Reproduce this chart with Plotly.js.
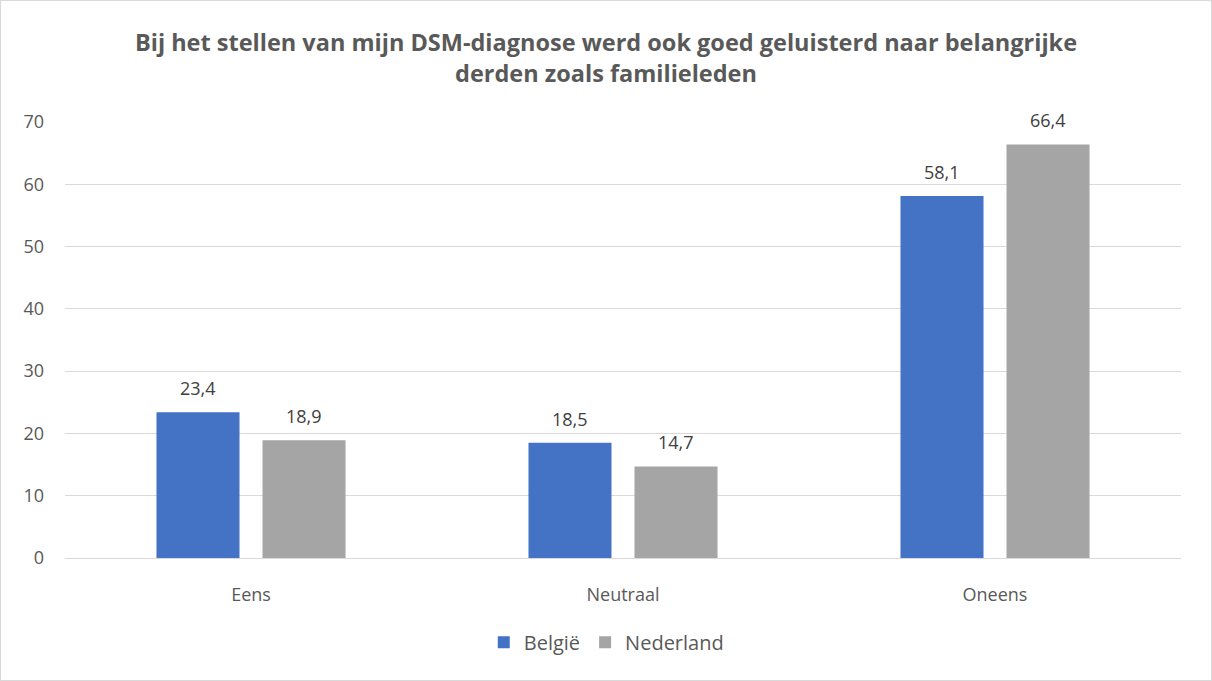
<!DOCTYPE html>
<html><head><meta charset="utf-8">
<script src="https://cdn.plot.ly/plotly-3.0.1.min.js"></script>
<style>html,body{margin:0;padding:0;background:#fff}#c{width:1210px;height:679px;border:1px solid #D9D9D9}</style>
</head><body><div id="c"></div>
<script>
const categories = ["Eens", "Neutraal", "Oneens"];
const belgie = [23.4, 18.5, 58.1];
const nederland = [18.9, 14.7, 66.4];
const seriesNames = ["België", "Nederland"];
const fmt = v => v.toFixed(1).replace('.', ',');
const font = "'Open Sans', sans-serif";
const traces = [
  {type:'bar', name:seriesNames[0], x:categories, y:belgie, marker:{color:'#4472C4'}},
  {type:'bar', name:seriesNames[1], x:categories, y:nederland, marker:{color:'#A5A5A5'}}
];
const annotations = [];
[[belgie,-0.1425],[nederland,0.1425]].forEach(([vals,off])=>{
  vals.forEach((v,i)=>annotations.push({x:i+off, y:v, xref:'x', yref:'y', text:fmt(v), showarrow:false,
    yanchor:'bottom', yshift:10, font:{size:18,color:'#404040',family:font}}));
});
const layout = {
  width:1210, height:679,
  margin:{l:64, r:30, t:121, b:122},
  paper_bgcolor:'#fff', plot_bgcolor:'#fff',
  font:{family:font, color:'#595959', size:18},
  title:{text:'<b>Bij het stellen van mijn DSM-diagnose werd ook goed geluisterd naar belangrijke<br>derden zoals familieleden</b>',
    font:{size:23.5, color:'#595959', family:font}, x:0.5, xanchor:'center', y:0.926, yanchor:'middle', yref:'container'},
  bargap:0.43, bargroupgap:0.217,
  annotations:annotations,
  xaxis:{showgrid:false, showline:true, linecolor:'#D9D9D9', ticks:'', ticklabelstandoff:20, automargin:false,
    tickfont:{size:18,color:'#595959'}},
  yaxis:{range:[0,70], dtick:10, showgrid:true, gridcolor:'#D9D9D9', zeroline:false, automargin:false,
    showline:false, ticks:'', ticklabelstandoff:20, tickfont:{size:18,color:'#595959'}},
  showlegend:true,
  legend:{orientation:'h', x:0.485, xanchor:'center', y:-0.193, yanchor:'middle', itemwidth:30,
    font:{size:20,color:'#595959'}, traceorder:'normal'}
};
Plotly.newPlot('c', traces, layout, {displayModeBar:false});
</script></body></html>
